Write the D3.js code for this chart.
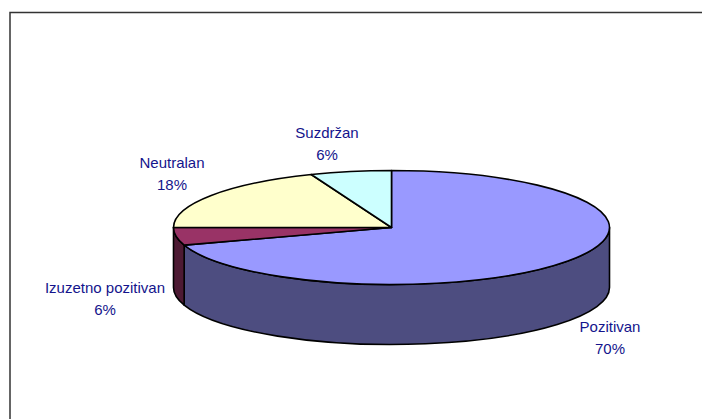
<!DOCTYPE html>
<html>
<head>
<meta charset="utf-8">
<script src="https://cdnjs.cloudflare.com/ajax/libs/d3/7.8.5/d3.min.js"></script>
<style>
  html, body { margin: 0; padding: 0; background: #fff; }
  svg { display: block; }
  text { font-family: "Liberation Sans", Arial, sans-serif; font-size: 15px; fill: #14148c; }
</style>
</head>
<body>
<svg id="chart" width="702" height="419"></svg>
<script>
var categories = ["Pozitivan", "Izuzetno pozitivan", "Neutralan", "Suzdržan"];
// slice sizes as drawn, the printed labels are rounded differently
var shares = [70, 5, 19, 6];
var percentLabels = ["70%", "6%", "18%", "6%"];
var topColors = ["#9999ff", "#993366", "#ffffcc", "#ccffff"];
var wallColors = ["#4d4d80", "#4d1a33", "#808066", "#668080"];

var svg = d3.select("#chart");

var centreX = 391.5,
    centreY = 227.5,
    radiusX = 218,
    radiusY = 57,
    depth = 60;

// frame, only top and left edges are visible in the crop
svg.append("path")
  .attr("d", "M10,419V12.5H702")
  .attr("fill", "none")
  .attr("stroke", "#333")
  .attr("stroke-width", 1.5);

var slices = d3.pie().sort(null)(shares);

function pointAt(angle, drop){
  return [centreX + radiusX*Math.sin(angle), centreY - radiusY*Math.cos(angle) + (drop || 0)];
}

function slicePath(d){
  var a = pointAt(d.startAngle), b = pointAt(d.endAngle);
  var large = d.endAngle - d.startAngle > Math.PI ? 1 : 0;
  return "M" + centreX + "," + centreY + "L" + a + "A" + radiusX + "," + radiusY + " 0 " + large + " 1 " + b + "Z";
}

// side wall, only the part of the rim facing the viewer (right, bottom, left)
function wallPath(d){
  var from = Math.max(d.startAngle, Math.PI/2),
      to = Math.min(d.endAngle, Math.PI*1.5);
  if (to <= from) return null;
  var a = pointAt(from), b = pointAt(to), c = pointAt(to, depth), e = pointAt(from, depth);
  var rad = radiusX + "," + radiusY;
  return "M" + a + "A" + rad + " 0 0 1 " + b + "L" + c + "A" + rad + " 0 0 0 " + e + "Z";
}

var chart = svg.append("g")
  .attr("stroke", "#000")
  .attr("stroke-width", 1.6)
  .attr("stroke-linejoin", "round");

chart.append("g").selectAll("path")
  .data(slices)
  .enter()
  .append("path")
  .attr("d", wallPath)
  .attr("fill", function(d,i){ return wallColors[i]; });

chart.append("g").selectAll("path")
  .data(slices)
  .enter()
  .append("path")
  .attr("d", slicePath)
  .attr("fill", function(d,i){ return topColors[i]; });

// label centres, placed by hand like the original
var labelX = [610, 105, 172, 327];
var labelY = [332, 293, 168, 138];

var labels = svg.append("g").selectAll("text")
  .data(categories)
  .enter()
  .append("text")
  .attr("text-anchor", "middle")
  .attr("y", function(d,i){ return labelY[i]; });

labels.append("tspan")
  .attr("x", function(d,i){ return labelX[i]; })
  .text(function(d){ return d; });

labels.append("tspan")
  .attr("x", function(d,i){ return labelX[i]; })
  .attr("dy", 22)
  .text(function(d,i){ return percentLabels[i]; });
</script>
</body>
</html>
